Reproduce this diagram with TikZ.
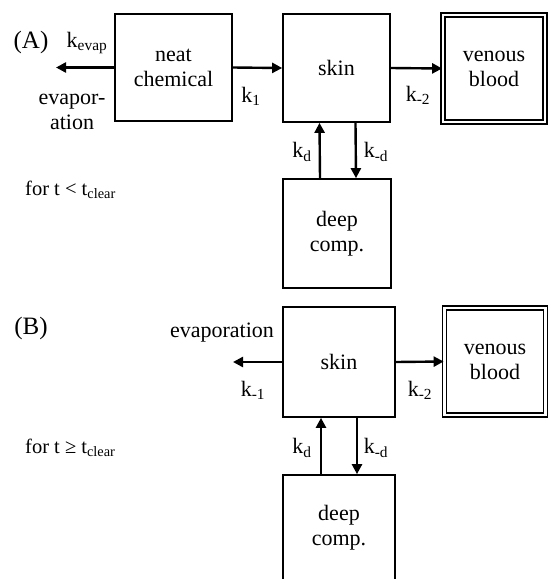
\documentclass[tikz,border=0pt]{standalone}
\usepackage{fontspec}
\setmainfont{Liberation Serif}
\usetikzlibrary{arrows.meta}
\begin{document}
\begin{tikzpicture}[x=1pt,y=-1pt,
  box/.style={draw,line width=1.7pt,rectangle,inner sep=0pt,align=center,
    font=\fontsize{22}{25}\selectfont},
  blood/.style={draw,line width=1.7pt,double,double distance=2.4pt,rectangle,
    inner sep=0pt,align=center,font=\fontsize{22}{25}\selectfont},
  arr/.style={line width=2.4pt,-{Triangle[length=10pt,width=10pt]}},
  lbl/.style={inner sep=0pt,font=\fontsize{22}{25}\selectfont,align=center},
  cond/.style={inner sep=0pt,anchor=west,font=\fontsize{20.5}{23}\selectfont},
  tag/.style={inner sep=0pt,font=\fontsize{25}{28}\selectfont}]
\clip (0,0) rectangle (549,579);
% ---------- (A) ----------
\node[tag] (tA) at (31,42) {(A)};
\node[box,minimum width=117pt,minimum height=107pt] (neat) at (173.5,67.5) {neat\\chemical};
\node[box,minimum width=107pt,minimum height=108pt] (skinA) at (336.5,68) {skin};
\node[blood,minimum width=102pt,minimum height=107pt] (venA) at (494,68.5) {venous\\blood};
\node[box,minimum width=108pt,minimum height=109pt] (deepA) at (337,233.5) {deep\\comp.};
\coordinate (evA) at (56,67.5);
\draw[arr] (neat.west) -- (evA);
\draw[arr] (neat.east) -- (skinA.west);
\draw[arr] (skinA.east) -- (venA.west);
\draw[arr] ([xshift=-17pt]deepA.north) -- ([xshift=-17pt]skinA.south);
\draw[arr] ([xshift=19pt]skinA.south) -- ([xshift=19pt]deepA.north);
\node[lbl] (kevap) at (87,43) {k\textsubscript{evap}};
\node[lbl] (evapA) at (72,112) {evapor-\\ation};
\node[lbl] (k1) at (251,96) {k\textsubscript{1}};
\node[lbl] (km2A) at (418,95) {k\textsubscript{-2}};
\node[lbl] (kdA) at (302,152) {k\textsubscript{d}};
\node[lbl] (kmdA) at (376,152) {k\textsubscript{-d}};
\node[cond] (condA) at (25,190) {for t < t\textsubscript{clear}};
% ---------- (B) ----------
\node[tag] (tB) at (31,328) {(B)};
\node[box,minimum width=112pt,minimum height=110pt] (skinB) at (339,362) {skin};
\node[blood,minimum width=101pt,minimum height=107pt] (venB) at (495,361.5) {venous\\blood};
\node[box,minimum width=112pt,minimum height=106pt] (deepB) at (339,528) {deep\\comp.};
\coordinate (evB) at (233,362);
\draw[arr] (skinB.west) -- (evB);
\draw[arr] (skinB.east) -- (venB.west);
\draw[arr] ([xshift=-18pt]deepB.north) -- ([xshift=-18pt]skinB.south);
\draw[arr] ([xshift=18pt]skinB.south) -- ([xshift=18pt]deepB.north);
\node[lbl] (evapB) at (222,333) {evaporation};
\node[lbl] (km1) at (253,390) {k\textsubscript{-1}};
\node[lbl] (km2B) at (420,390) {k\textsubscript{-2}};
\node[lbl] (kdB) at (302,448) {k\textsubscript{d}};
\node[lbl] (kmdB) at (376,448) {k\textsubscript{-d}};
\node[cond] (condB) at (25,448) {for t ≥ t\textsubscript{clear}};
\end{tikzpicture}
\end{document}
